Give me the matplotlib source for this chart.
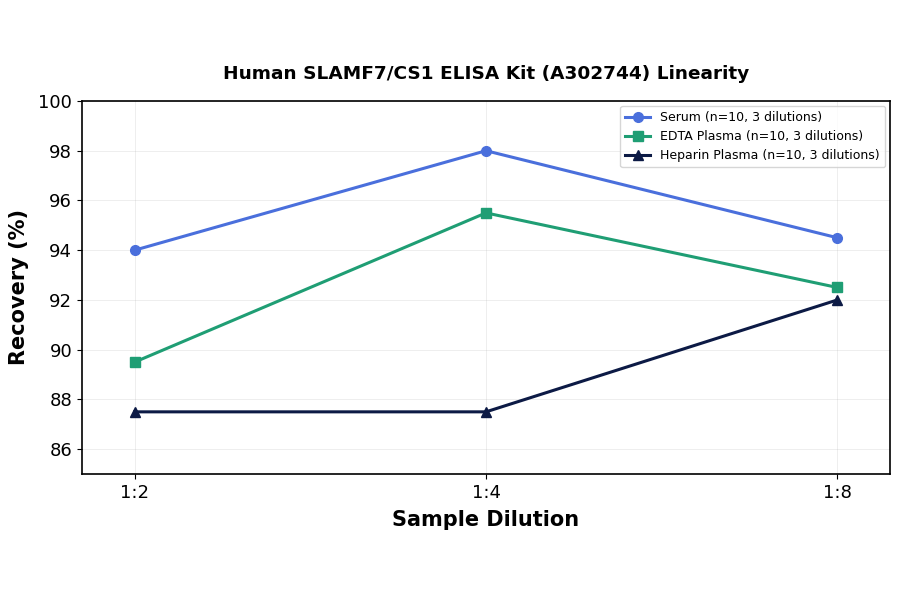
import matplotlib
matplotlib.use('Agg')
from matplotlib import pyplot as plt

dilutions = ['1:2', '1:4', '1:8']
serum = [94.0, 98.0, 94.5]
edta = [89.5, 95.5, 92.5]
heparin = [87.5, 87.5, 92.0]

fig, ax = plt.subplots(figsize=(9, 5.94), dpi=100)
x = range(len(dilutions))

ax.plot(x, serum, marker='o', color='#4a6fdc', linewidth=2.2, markersize=7,
        label='Serum (n=10, 3 dilutions)')
ax.plot(x, edta, marker='s', color='#1f9e74', linewidth=2.2, markersize=7,
        label='EDTA Plasma (n=10, 3 dilutions)')
ax.plot(x, heparin, marker='^', color='#0c1a45', linewidth=2.2, markersize=7,
        label='Heparin Plasma (n=10, 3 dilutions)')

ax.set_xticks(list(x))
ax.set_xticklabels(dilutions)
ax.set_xlim(-0.15, 2.15)
ax.set_ylim(85, 100)
ax.set_yticks(range(86, 101, 2))
ax.tick_params(labelsize=13)
ax.grid(True, alpha=0.25, linewidth=0.6)
for s in ax.spines.values():
    s.set_linewidth(1.2)

ax.set_xlabel('Sample Dilution', fontsize=15, fontweight='bold', labelpad=6)
ax.set_ylabel('Recovery (%)', fontsize=15, fontweight='bold', labelpad=7)
ax.set_title('Human SLAMF7/CS1 ELISA Kit (A302744) Linearity', fontsize=13.3,
             fontweight='bold', pad=16)
ax.legend(loc='upper right', fontsize=9, borderaxespad=0.4)

fig.subplots_adjust(left=0.091, right=0.989, top=0.83, bottom=0.202)
plt.savefig('out.png')
